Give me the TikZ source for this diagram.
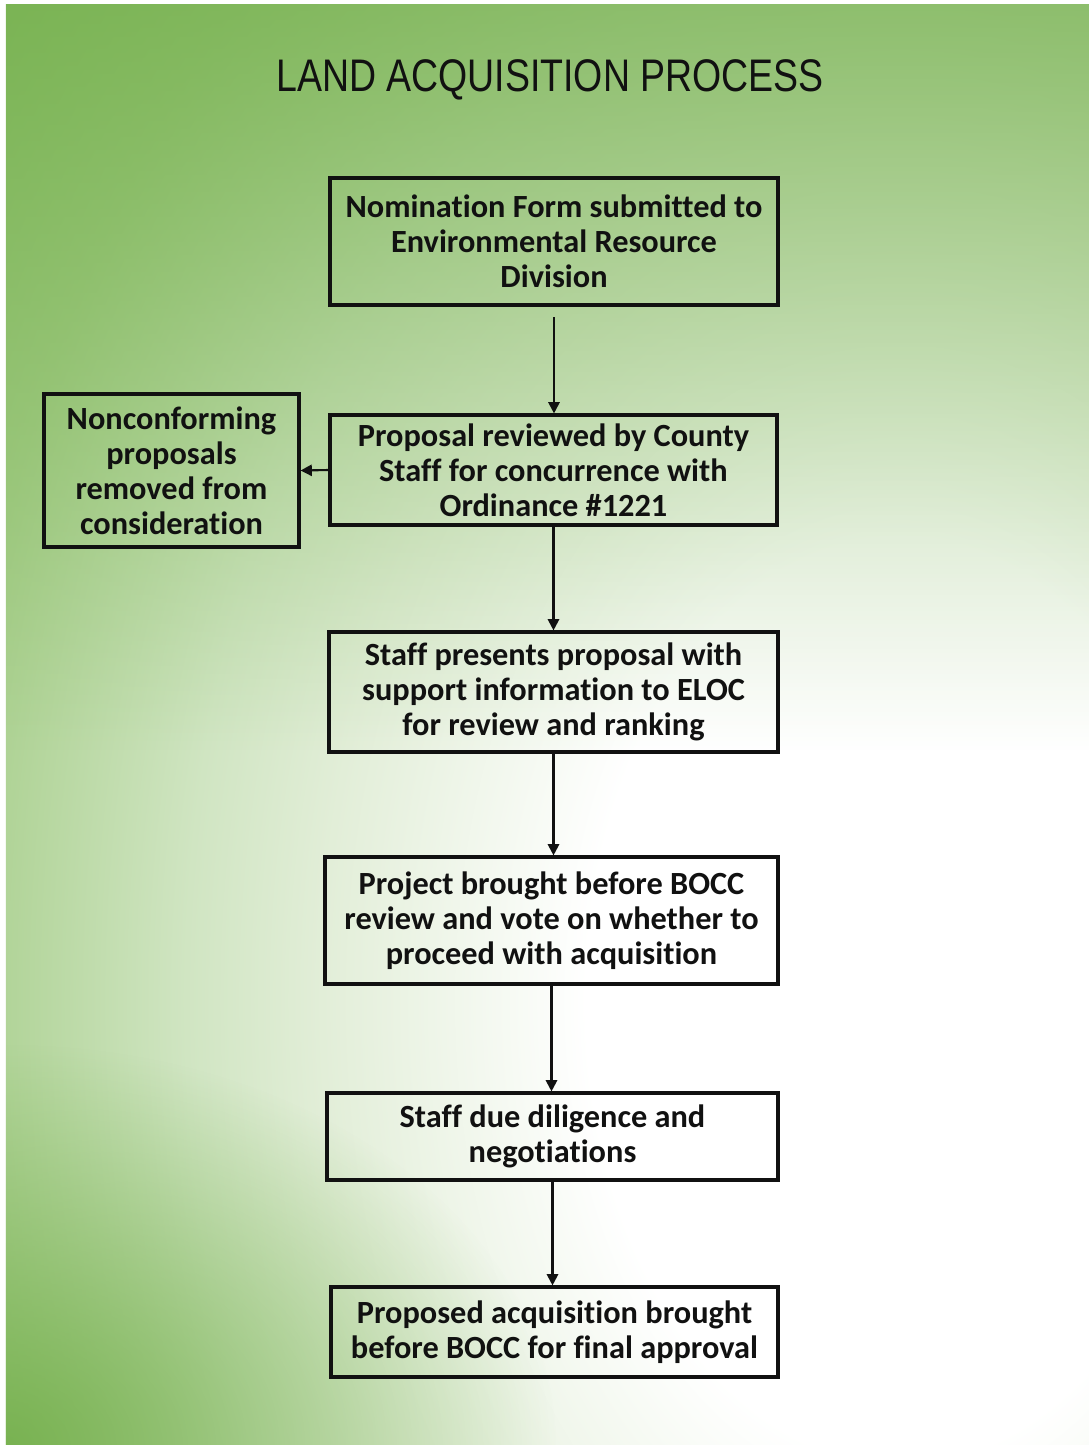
\documentclass[tikz,border=0pt]{standalone}
\usepackage{fontspec}
\setmainfont{Carlito}[Ligatures={TeX,NoCommon}]
\newfontfamily\titlefont[FakeStretch=0.82]{Liberation Sans}
\definecolor{leaf}{HTML}{70AD47}
\definecolor{fern}{HTML}{8CC06A}
\definecolor{sage}{HTML}{A8CF8C}
\definecolor{mint}{HTML}{D0E5C2}
\definecolor{frost}{HTML}{E2EED8}
\definecolor{ink}{HTML}{111111}
\usetikzlibrary{arrows.meta, fadings}

\pgfdeclareradialshading{meadow}{\pgfpoint{0bp}{0bp}}{color(0bp)=(white); color(4.6bp)=(white); color(8.5bp)=(frost); color(10.5bp)=(mint); color(14bp)=(sage); color(17.5bp)=(fern); color(21bp)=(leaf); color(50bp)=(leaf)}
\tikzfading[name=topfade, top color=transparent!30, middle color=transparent!76, bottom color=transparent!100]
\tikzfading[name=cornerfade, inner color=transparent!15, outer color=transparent!100]

\tikzset{
  stage/.style={draw=ink, line width=0.9pt, align=center, inner sep=0pt, text=ink,
    font=\fontsize{9.2}{9.96}\selectfont\bfseries},
  flow/.style={draw=ink, line width=0.6pt, -{Triangle[length=3.2pt,width=3.2pt]}}
}

\begin{document}
\begin{tikzpicture}
  % page and green backdrop
  \fill[white] (0,0) rectangle (10.89,-14.45);
  \fill[leaf] (0.06,-0.04) rectangle (10.89,-14.45);
  \begin{scope}
    \clip (0.06,-0.04) rectangle (10.89,-14.45);
    \shade[shading=meadow] (9.0,-10.0) ellipse [x radius=17, y radius=25];
    \fill[leaf, path fading=topfade] (0.06,-0.04) rectangle (10.89,-7.5);
    \fill[leaf, path fading=cornerfade] (0.06,-14.45) ellipse [x radius=5.5, y radius=4];
  \end{scope}

  \node[font=\titlefont\fontsize{13}{15}\selectfont, text=ink] (title) at (5.5,-0.80) {LAND ACQUISITION PROCESS};

  % process steps
  \node[stage, minimum width=4.48cm, minimum height=1.27cm] (nominate) at (5.54,-2.415)
    {Nomination Form submitted to\\Environmental Resource\\Division};
  \node[stage, minimum width=4.47cm, minimum height=1.10cm] (review) at (5.535,-4.70)
    {Proposal reviewed by County\\Staff for concurrence with\\Ordinance \#1221};
  \node[stage, minimum width=2.55cm, minimum height=1.53cm] (removed) at (1.715,-4.705)
    {Nonconforming\\proposals\\removed from\\consideration};
  \node[stage, minimum width=4.49cm, minimum height=1.20cm] (present) at (5.535,-6.92)
    {Staff presents proposal with\\support information to ELOC\\for review and ranking};
  \node[stage, minimum width=4.53cm, minimum height=1.27cm] (vote) at (5.515,-9.205)
    {Project brought before BOCC\\review and vote on whether to\\proceed with acquisition};
  \node[stage, minimum width=4.51cm, minimum height=0.87cm] (diligence) at (5.525,-11.365)
    {Staff due diligence and\\negotiations};
  \node[stage, minimum width=4.47cm, minimum height=0.90cm] (approval) at (5.545,-13.32)
    {Proposed acquisition brought\\before BOCC for final approval};

  % connectors
  \draw[flow, shorten <=3pt] (nominate.south) -- (nominate.south |- review.north);
  \draw[flow] (review.west) -- (removed.east);
  \draw[flow] (review.south) -- (review.south |- present.north);
  \draw[flow] (present.south) -- (present.south |- vote.north);
  \draw[flow] (vote.south) -- (vote.south |- diligence.north);
  \draw[flow] (diligence.south) -- (diligence.south |- approval.north);
\end{tikzpicture}
\end{document}
